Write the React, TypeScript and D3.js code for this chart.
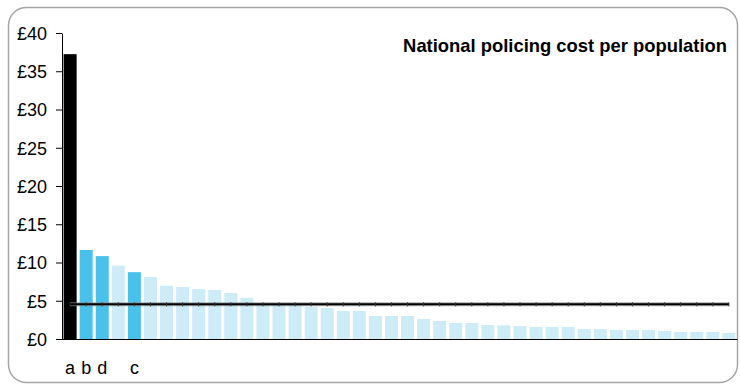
import React from "react";
import * as d3 from "d3";

const categories: string[] = [
  "a", "b", "d", "", "c", "", "", "", "", "", "", "", "", "", "",
  "", "", "", "", "", "", "", "", "", "", "", "", "", "", "",
  "", "", "", "", "", "", "", "", "", "", "", "",
];
const costValues: number[] = [
  37.3, 11.7, 10.9, 9.65, 8.8, 8.17, 7.03, 6.86, 6.6, 6.47, 6.08, 5.42,
  4.55, 4.5, 4.5, 4.25, 4.12, 3.73, 3.73, 3.07, 3.07, 3.07, 2.68, 2.42,
  2.16, 2.16, 1.9, 1.85, 1.77, 1.63, 1.63, 1.63, 1.37, 1.37, 1.24, 1.24,
  1.24, 1.11, 0.98, 0.98, 0.98, 0.85,
];
const barGroup: string[] = costValues.map((_, i) =>
  i === 0 ? "national" : i === 1 || i === 2 || i === 4 ? "highlight" : "other"
);
const averageValue = 4.6;
const yTicks: number[] = [0, 5, 10, 15, 20, 25, 30, 35, 40];
const titleText = "National policing cost per population";

const colors: Record<string, string> = {
  national: "#000000",
  highlight: "#4ac1eb",
  other: "#cdecf8",
};

export default function App() {
  const W = 740;
  const H = 384;
  const x0 = 62;
  const x1 = 737;
  const yTop = 33.5;
  const yBot = 339.5;
  const idx = costValues.map((_, i) => String(i));
  const x = d3
    .scaleBand<string>()
    .domain(idx)
    .range([x0, x1])
    .paddingInner(0.19)
    .paddingOuter(0.1);
  const y = d3.scaleLinear().domain([0, 40]).range([yBot, yTop]);
  const bw = x.bandwidth();
  const centers = idx.map((k) => (x(k) as number) + bw / 2);
  const avgY = y(averageValue);
  const font = "Liberation Sans, Arial, sans-serif";

  return (
    <svg
      width={W}
      height={H}
      style={{ position: "absolute", left: 0, top: 0, background: "#fff" }}
      fontFamily={font}
    >
      <rect
        x={8.5}
        y={7.5}
        width={729}
        height={375}
        rx={18}
        ry={18}
        fill="#fff"
        stroke="#a6a6a6"
        strokeWidth={1.5}
      />
      {costValues.map((v, i) => (
        <rect
          key={i}
          x={x(String(i))}
          y={y(v)}
          width={bw}
          height={yBot - y(v)}
          fill={colors[barGroup[i]]}
        />
      ))}
      {/* average line */}
      <line
        x1={centers[0]}
        x2={centers[centers.length - 1]}
        y1={avgY}
        y2={avgY}
        stroke="#8a8a8a"
        strokeWidth={4}
        strokeOpacity={0.7}
      />
      <line
        x1={centers[0]}
        x2={centers[centers.length - 1]}
        y1={avgY}
        y2={avgY}
        stroke="#000"
        strokeWidth={2}
      />
      {centers.map((c, i) => (
        <line
          key={i}
          x1={c}
          x2={c}
          y1={avgY - 2}
          y2={avgY + 2}
          stroke="#333"
          strokeWidth={1}
        />
      ))}
      {/* axes */}
      <line x1={x0 + 0.5} x2={x0 + 0.5} y1={yTop} y2={yBot} stroke="#000" strokeWidth={1} />
      <line x1={x0} x2={x1 + 0.5} y1={yBot} y2={yBot} stroke="#000" strokeWidth={1.2} />
      {yTicks.map((t) => (
        <g key={t}>
          <line x1={56} x2={x0} y1={y(t)} y2={y(t)} stroke="#000" strokeWidth={1} />
          <text
            x={47}
            y={y(t)}
            dy="0.36em"
            textAnchor="end"
            fontSize={18}
            fill="#000"
          >
            {"£" + t}
          </text>
        </g>
      ))}
      {categories.map((c, i) =>
        c ? (
          <text
            key={i}
            x={centers[i]}
            y={374}
            textAnchor="middle"
            fontSize={18}
            fill="#000"
          >
            {c}
          </text>
        ) : null
      )}
      <text
        x={727}
        y={51.5}
        textAnchor="end"
        fontSize={18.4}
        fontWeight="bold"
        fill="#000"
      >
        {titleText}
      </text>
    </svg>
  );
}
